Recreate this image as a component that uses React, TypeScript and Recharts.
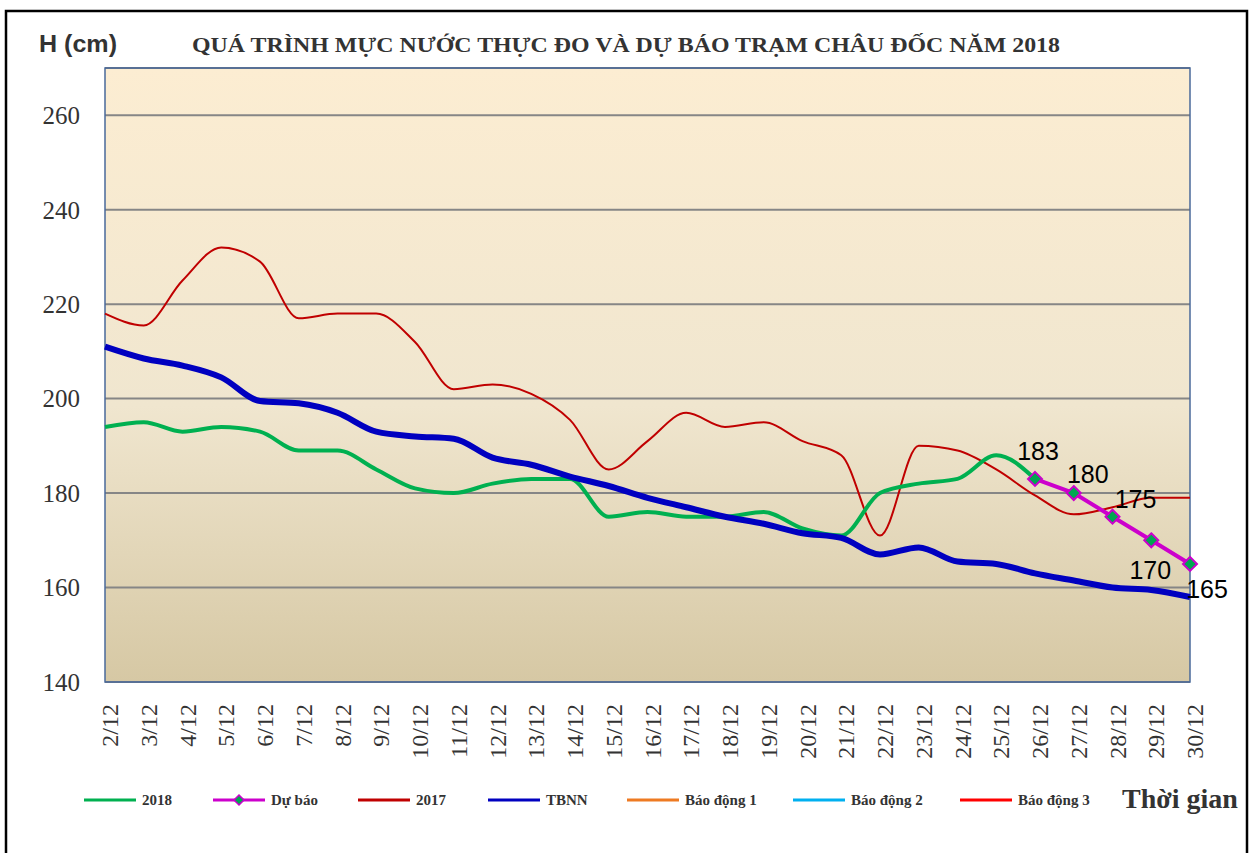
import React from 'react';
import { LineChart, Line, XAxis, YAxis, CartesianGrid, ReferenceArea } from 'recharts';

const categories = ['2/12','3/12','4/12','5/12','6/12','7/12','8/12','9/12','10/12','11/12','12/12','13/12','14/12','15/12','16/12','17/12','18/12','19/12','20/12','21/12','22/12','23/12','24/12','25/12','26/12','27/12','28/12','29/12','30/12'];
const values2018 = [194,195,193,194,193,189,189,185,181,180,182,183,183,175,176,175,175,176,172.5,171,180,182,183,188,183,null,null,null,null];
const valuesForecast = [null,null,null,null,null,null,null,null,null,null,null,null,null,null,null,null,null,null,null,null,null,null,null,null,183,180,175,170,165];
const values2017 = [218,215.5,225,232,229,217,218,218,212,202,203,201,195.5,185,191,197,194,195,191,188,171,190,189,185,179.5,175.5,177,179,179];
const valuesTBNN = [211,208.5,207,204.5,199.5,199,197,193,192,191.5,187.5,186,183.5,181.5,179,177,175,173.5,171.5,170.5,167,168.5,165.5,165,163,161.5,160,159.5,158];
const yTicks = [140,160,180,200,220,240,260];
const yDomain = [140, 270];
const legendItems = [
  { name: '2018', color: '#00B050', marker: false },
  { name: 'Dự báo', color: '#CC00CC', marker: true },
  { name: '2017', color: '#C00000', marker: false },
  { name: 'TBNN', color: '#0000C0', marker: false },
  { name: 'Báo động 1', color: '#EE7A22', marker: false },
  { name: 'Báo động 2', color: '#00B0F0', marker: false },
  { name: 'Báo động 3', color: '#FF0000', marker: false },
];
const legendX = [84, 213, 358, 488, 627, 793, 960];
const title = 'QUÁ TRÌNH MỰC NƯỚC THỰC ĐO VÀ DỰ BÁO TRẠM CHÂU ĐỐC NĂM 2018';

// label offsets (style) for forecast values
const labelOffsets = [
  [3, -28], [14, -19], [23, -18], [-1, 30], [17, 25],
];

const data = categories.map((c, i) => ({
  day: c,
  y2018: values2018[i],
  forecast: valuesForecast[i],
  y2017: values2017[i],
  tbnn: valuesTBNN[i],
}));

const serif = '"Liberation Serif", "Times New Roman", serif';
const sans = '"Liberation Sans", Arial, sans-serif';

const Diamond = (props: any) => {
  const { cx, cy, value } = props;
  if (value == null || cx == null) return null;
  const r = 7;
  return (
    <polygon
      points={`${cx},${cy - r} ${cx + r},${cy} ${cx},${cy + r} ${cx - r},${cy}`}
      fill="#00A651"
      stroke="#CC00CC"
      strokeWidth={2}
    />
  );
};

const firstForecast = valuesForecast.findIndex((v) => v != null);

const ForecastLabel = (props: any) => {
  const { x, y, value, index } = props;
  if (value == null) return null;
  const k = index - firstForecast;
  const off = labelOffsets[k] || [0, -20];
  return (
    <text x={x + off[0]} y={y + off[1]} textAnchor="middle" dominantBaseline="central"
      fontFamily={sans} fontSize={25} fill="#000">
      {value}
    </text>
  );
};

const XTick = (props: any) => {
  const { x, payload } = props;
  const tx = x + 5;
  const ty = 704;
  return (
    <text x={tx} y={ty} transform={`rotate(-90, ${tx}, ${ty})`} textAnchor="end"
      dominantBaseline="central" fontFamily={serif} fontSize={24} fill="#333">
      {payload.value}
    </text>
  );
};

export default function App() {
  return (
    <div style={{ position: 'absolute', left: 0, top: 0, width: 1253, height: 853, background: '#fff' }}>
      <svg width={0} height={0} style={{ position: 'absolute' }}>
        <defs>
          <linearGradient id="plotBg" x1="0" y1="0" x2="0" y2="1">
            <stop offset="0%" stopColor="#FCEDD2" />
            <stop offset="55%" stopColor="#F0E6CF" />
            <stop offset="100%" stopColor="#D6C8A4" />
          </linearGradient>
        </defs>
      </svg>
      <div style={{ position: 'absolute', left: 0, top: 0 }}>
        <LineChart width={1253} height={853} data={data}
          margin={{ top: 68, right: 63, left: 15, bottom: 81 }}>
          <CartesianGrid vertical={false} stroke="#868686" strokeWidth={2} fill="url(#plotBg)" fillOpacity={1} />
          <XAxis dataKey="day" height={90} axisLine={false} tickLine={false} interval={0} tick={<XTick />} />
          <YAxis domain={yDomain} ticks={yTicks} width={90} axisLine={false} tickLine={false}
            tickSize={0} tickMargin={25}
            tick={{ fontFamily: serif, fontSize: 25, fill: '#333' }} />
          <ReferenceArea x1={categories[0]} x2={categories[categories.length - 1]} y1={yDomain[0]} y2={yDomain[1]}
            fill="none" fillOpacity={0} stroke="#4A6A9A" strokeWidth={1.5} ifOverflow="visible" />
          <Line type="monotone" dataKey="y2017" stroke="#C00000" strokeWidth={2} dot={false} isAnimationActive={false} connectNulls={false} />
          <Line type="monotone" dataKey="y2018" stroke="#00B050" strokeWidth={4} dot={false} isAnimationActive={false} />
          <Line type="monotone" dataKey="tbnn" stroke="#0000C0" strokeWidth={6} dot={false} isAnimationActive={false} />
          <Line type="linear" dataKey="forecast" stroke="#CC00CC" strokeWidth={4} dot={<Diamond />}
            label={<ForecastLabel />} isAnimationActive={false} />
        </LineChart>
      </div>
      <svg width={1253} height={853} style={{ position: 'absolute', left: 0, top: 0, pointerEvents: 'none' }}>
        <rect x={6} y={11} width={1241} height={870} fill="none" stroke="#000" strokeWidth={2.5} />
        <text x={39} y={52} fontFamily={sans} fontWeight="bold" fontSize={24} fill="#333" textLength={78} lengthAdjust="spacingAndGlyphs">H (cm)</text>
        <text x={192} y={52} fontFamily={serif} fontWeight="bold" fontSize={22} fill="#333" textLength={868} lengthAdjust="spacingAndGlyphs">{title}</text>
        {legendItems.map((it, i) => (
          <g key={it.name}>
            <line x1={legendX[i]} x2={legendX[i] + 52} y1={800} y2={800} stroke={it.color} strokeWidth={3} />
            {it.marker && (
              <polygon points={`${legendX[i] + 26},${795} ${legendX[i] + 31},${800} ${legendX[i] + 26},${805} ${legendX[i] + 21},${800}`}
                fill="#00A651" stroke="#CC00CC" strokeWidth={1.5} />
            )}
            <text x={legendX[i] + 58} y={800} dominantBaseline="central" fontFamily={serif} fontWeight="bold" fontSize={15} fill="#333">{it.name}</text>
          </g>
        ))}
        <text x={1122} y={808} fontFamily={serif} fontWeight="bold" fontSize={28} fill="#333">Thời gian</text>
      </svg>
    </div>
  );
}
